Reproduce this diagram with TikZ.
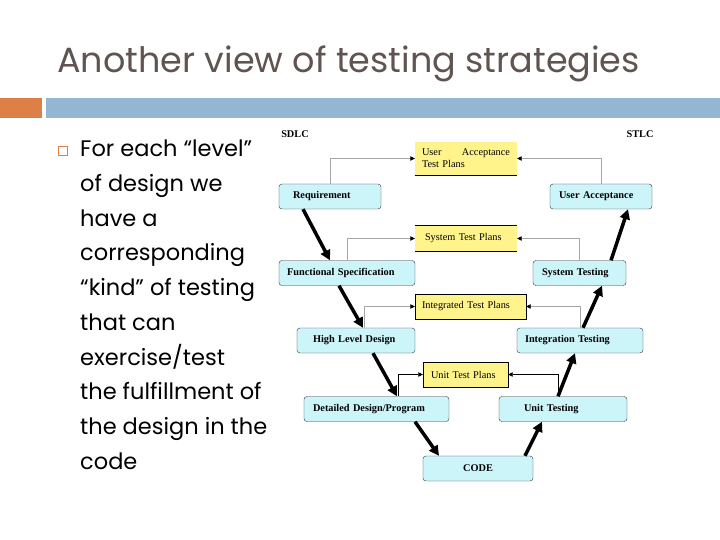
\documentclass[tikz,border=0pt]{standalone}
\usepackage{fontspec}
\setmainfont{Poppins}
\newfontfamily\vfont{Liberation Serif}
\usetikzlibrary{positioning, shapes, arrows.meta}
\definecolor{TitleGray}{RGB}{96, 84, 80}
\definecolor{BarOrange}{RGB}{221, 128, 71}
\definecolor{BarBlue}{RGB}{148, 182, 210}
\definecolor{PhaseCyan}{RGB}{204, 245, 250}
\definecolor{PlanYellow}{RGB}{255, 244, 140}

\begin{document}
\begin{tikzpicture}[x=1pt, y=-1pt,
    phase/.style={draw=black!80, fill=PhaseCyan, rounded corners=3pt, minimum height=25pt,
      align=left, inner ysep=0pt, font=\vfont\bfseries\fontsize{10.3}{12}\selectfont},
    plan/.style={fill=PlanYellow, minimum height=25pt, align=left, inner ysep=0pt,
      font=\vfont\fontsize{10.3}{12}\selectfont},
    vflow/.style={line width=3.5pt, -{Triangle[length=10pt, width=10pt]}},
    link/.style={draw=gray!70, line width=0.7pt, -{Triangle[length=4.5pt, width=4.5pt, color=black]}}]
    \useasboundingbox (0,0) rectangle (720,540);

    % Title and bars
    \node[anchor=base west, inner sep=0pt, TitleGray, font=\fontsize{35}{40}\selectfont] (title) at (57,73) {Another view of testing strategies};
    \fill[BarOrange] (0,98) rectangle (42,118);
    \fill[BarBlue] (46,98) rectangle (720,118);

    % Bullet
    \draw[BarOrange, line width=1.2pt] (58.5,146.5) rectangle (67.5,155.5);
    \node[anchor=north west, inner sep=0pt, align=left, font=\fontsize{22.5}{34.7}\selectfont] (bullet) at (80,140)
      {For each “level”\\of design we\\have a\\corresponding\\“kind” of testing\\that can\\exercise/test\\the fulfillment of\\the design in the\\code};

    % Side labels
    \node[font=\vfont\bfseries\fontsize{10.3}{12}\selectfont] (sdlc) at (295,134) {SDLC};
    \node[font=\vfont\bfseries\fontsize{10.3}{12}\selectfont] (stlc) at (640,134) {STLC};

    % Development side
    \node[phase, inner xsep=14pt, text width=74pt] (req) at (330,196.5) {Requirement};
    \node[phase, inner xsep=8pt, text width=120pt] (fspec) at (347,273) {Functional Specification};
    \node[phase, inner xsep=16pt, text width=86pt] (hld) at (356,340.5) {High Level Design};
    \node[phase, inner xsep=9pt, text width=127pt] (ddp) at (376.5,409) {Detailed Design/Program};
    \node[phase, minimum width=110pt, align=center] (code) at (478,468.5) {CODE};

    % Testing side
    \node[phase, inner xsep=25pt, text width=78pt] (ut) at (563,409) {Unit Testing};
    \node[phase, inner xsep=8pt, text width=110pt] (it) at (580,340.5) {Integration Testing};
    \node[phase, inner xsep=9pt, text width=75pt] (st) at (579.5,273) {System Testing};
    \node[phase, inner xsep=9pt, text width=84pt] (ua) at (601,196.5) {User Acceptance};

    % Test plans
    \node[plan, minimum height=33pt, inner xsep=7pt, text width=88pt] (uatp) at (466,158.5) {User\hfill Acceptance\\Test Plans};
    \node[plan, inner xsep=10pt, text width=82pt] (stp) at (466,238.5) {System Test Plans};
    \node[plan, draw=black, inner xsep=7pt, text width=97pt] (itp) at (470.5,306.5) {Integrated Test Plans};
    \node[plan, draw=black, inner xsep=8pt, text width=69pt] (utp) at (465.5,374.5) {Unit Test Plans};
    \draw[line width=0.8pt] (uatp.south west) -- (uatp.south east);
    \draw[line width=0.8pt] (stp.north west) -- (stp.north east);
    \draw[line width=0.8pt] (stp.south west) -- (stp.south east);

    % V flow
    \draw[vflow] ([xshift=-27pt]req.south) -- ([xshift=-17pt]fspec.north);
    \draw[vflow] ([xshift=-8pt]fspec.south) -- ([xshift=7pt]hld.north);
    \draw[vflow] ([xshift=17pt]hld.south) -- ([xshift=20.5pt]ddp.north);
    \draw[vflow] ([xshift=38.5pt]ddp.south) -- ([xshift=-39pt]code.north);
    \draw[vflow] ([xshift=47pt]code.north) -- ([xshift=-21pt]ut.south);
    \draw[vflow] ([xshift=-5pt]ut.north) -- ([xshift=-5pt]it.south);
    \draw[vflow] ([xshift=3pt]it.north) -- ([xshift=22.5pt]st.south);
    \draw[vflow] ([xshift=31.5pt]st.north) -- ([xshift=27pt]ua.south);

    % Links to test plans
    \draw[link] (req.north) |- (uatp.west);
    \draw[link] (ua.north) |- (uatp.east);
    \draw[link] (fspec.north) |- (stp.west);
    \draw[link] (st.north) |- (stp.east);
    \draw[link] ([xshift=8pt]hld.north) |- (itp.west);
    \draw[link] (it.north) |- (itp.east);
    \draw[link, draw=black] ([xshift=21.5pt]ddp.north) |- (utp.west);
    \draw[link, draw=black] ([xshift=-5pt]ut.north) |- (utp.east);
\end{tikzpicture}
\end{document}
